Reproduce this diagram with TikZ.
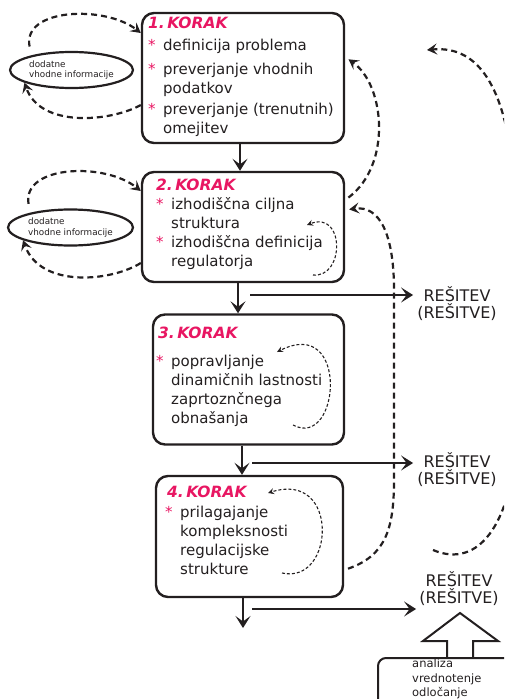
\documentclass[tikz,border=0pt]{standalone}
\usepackage{fontspec}
\setmainfont{DejaVu Sans}
\usepackage{xcolor}
\usetikzlibrary{arrows.meta,shapes.geometric}
\definecolor{roza}{RGB}{232,22,98}
\definecolor{crna}{RGB}{35,31,32}
\newcommand{\zv}{\makebox[15pt][l]{\textcolor{roza}{*}}}
\newcommand{\od}{\hspace*{15pt}}

\begin{document}
\begin{tikzpicture}[x=1pt,y=-1pt,color=crna,
    korak/.style={draw,line width=2.4pt,rounded corners=12pt,inner sep=0pt},
    naslov/.style={anchor=base west,inner sep=0pt,text=roza,font=\fontsize{15.5}{18}\selectfont\bfseries\itshape},
    besedilo/.style={anchor=north west,inner sep=0pt,align=left,font=\fontsize{15}{19}\selectfont},
    oval/.style={draw,ellipse,line width=2.2pt,inner sep=0pt,align=left,font=\fontsize{8.8}{10.5}\selectfont},
    resitev/.style={align=center,inner sep=0pt,font=\fontsize{16}{17}\selectfont},
    tok/.style={-{Stealth[length=12pt,width=15pt,inset=5.5pt]},line width=2.4pt},
    povratna/.style={-{Stealth[length=10pt,width=11pt,inset=4pt]},line width=2.2pt,dash pattern=on 6pt off 4pt},
    zanka/.style={-{Stealth[length=6pt,width=6pt,inset=2pt]},line width=1.1pt,dash pattern=on 3pt off 2pt}]
    \useasboundingbox (0,0) rectangle (504,699);
    \clip (0,0) rectangle (504,699);

    \node[korak,minimum width=202pt,minimum height=130pt] (k1) at (243,78) {};
    \node[korak,minimum width=202pt,minimum height=110pt] (k2) at (243,227) {};
    \node[korak,minimum width=191pt,minimum height=130pt] (k3) at (248.5,379.5) {};
    \node[korak,minimum width=187pt,minimum height=121pt] (k4) at (249.5,536.5) {};

    \node[naslov] (n1) at (148,28.5) {1.\,KORAK};
    \node[naslov] (n2) at (156,190.5) {2.\,KORAK};
    \node[naslov] (n3) at (158,338.5) {3.\,KORAK};
    \node[naslov] (n4) at (167,497.5) {4.\,KORAK};

    \node[besedilo] (b1) at (148,38.6) {\zv definicija problema\\[5pt]\zv preverjanje vhodnih\\\od podatkov\\[2pt]\zv preverjanje (trenutnih)\\\od omejitev};
    \node[besedilo] (b2) at (156,197.6) {\zv izhodiščna ciljna\\\od struktura\\\zv izhodiščna definicija\\\od regulatorja};
    \node[besedilo] (b3) at (156,354.6) {\zv popravljanje\\\od dinamičnih lastnosti\\\od zaprtoznčnega\\\od obnašanja};
    \node[besedilo] (b4) at (165,505.6) {\zv prilagajanje\\\od kompleksnosti\\\od regulacijske\\\od strukture};

    \node[oval,minimum width=123pt,minimum height=36pt] (e1) at (71.5,70) {dodatne\\vhodne informacije};
    \node[oval,minimum width=125pt,minimum height=36pt] (e2) at (70.5,227.5) {dodatne\\vhodne informacije};

    \node[resitev] (r1) at (457,304) {REŠITEV\\(REŠITVE)};
    \node[resitev] (r2) at (457,470) {REŠITEV\\(REŠITVE)};
    \node[resitev] (r3) at (459,589) {REŠITEV\\(REŠITVE)};

    \draw[tok] ([xshift=-3pt]k1.south) -- ([xshift=-3pt]k2.north);
    \draw[tok] ([xshift=-5pt]k2.south) -- ([xshift=-10.5pt]k3.north);
    \draw[tok] ([xshift=-6.5pt]k3.south) -- ([xshift=-7.5pt]k4.north);
    \coordinate (konec) at (243,628);
    \draw[tok] ([xshift=-6.5pt]k4.south) -- (konec);

    \coordinate (o1) at (250,295);
    \coordinate (o2) at (252,463);
    \coordinate (o3) at (252,609);
    \draw[tok,shorten >=4pt] (o1) -- (o1 -| r1.west);
    \draw[tok,shorten >=4pt] (o2) -- (o2 -| r2.west);
    \draw[tok,shorten >=3pt] (o3) -- (o3 -| r3.west);

    \draw[povratna,shorten <=9pt] (e1.160) .. controls (22,8) and (105,5) .. (k1.west |- 0,33);
    \draw[povratna] (k1.west |- 0,105) .. controls (110,122) and (40,128) .. (e1.195);
    \draw[povratna,shorten <=9pt] (e2.160) .. controls (22,165) and (105,162) .. (k2.west |- 0,191);
    \draw[povratna] (k2.west |- 0,263) .. controls (110,282) and (40,288) .. (e2.195);

    \draw[povratna,shorten <=4pt,shorten >=4pt] (k2.east |- 0,200) .. controls (392,165) and (385,85) .. (k1.east |- 0,57);
    \draw[povratna,shorten <=4pt,shorten >=4pt] (k4.east |- 0,570) .. controls (385,556) and (394,530) .. (394,480) -- (394,290) .. controls (394,235) and (380,205) .. (k2.east |- 0,210);
    \coordinate (d1) at (433,550);
    \coordinate (d2) at (427,50);
    \draw[povratna] (d1) .. controls (480,570) and (510,520) .. (515,450) -- (515,200) .. controls (510,90) and (480,45) .. (d2);

    \coordinate (z2a) at (313,275);
    \coordinate (z2b) at (307,225);
    \coordinate (z3a) at (293,425);
    \coordinate (z3b) at (277,352);
    \coordinate (z4a) at (282,573);
    \coordinate (z4b) at (268,493);
    \draw[zanka] (z2a) .. controls (345,278) and (345,210) .. (z2b);
    \draw[zanka] (z3a) .. controls (340,450) and (350,315) .. (z3b);
    \draw[zanka] (z4a) .. controls (335,585) and (340,470) .. (z4b);

    \node[draw,line width=2pt,rounded corners=8pt,minimum width=160pt,minimum height=60pt,anchor=north west] (ak) at (377,657) {};
    \node[anchor=north west,inner sep=0pt,align=left,font=\fontsize{11.5}{14.5}\selectfont] (akt) at (412,659) {analiza\\vrednotenje\\odločanje};
    \draw[line width=2pt] (447,657) -- (447,641) -- (423,641) -- (460,613) -- (498,641) -- (473,641) -- (473,657);
\end{tikzpicture}
\end{document}
